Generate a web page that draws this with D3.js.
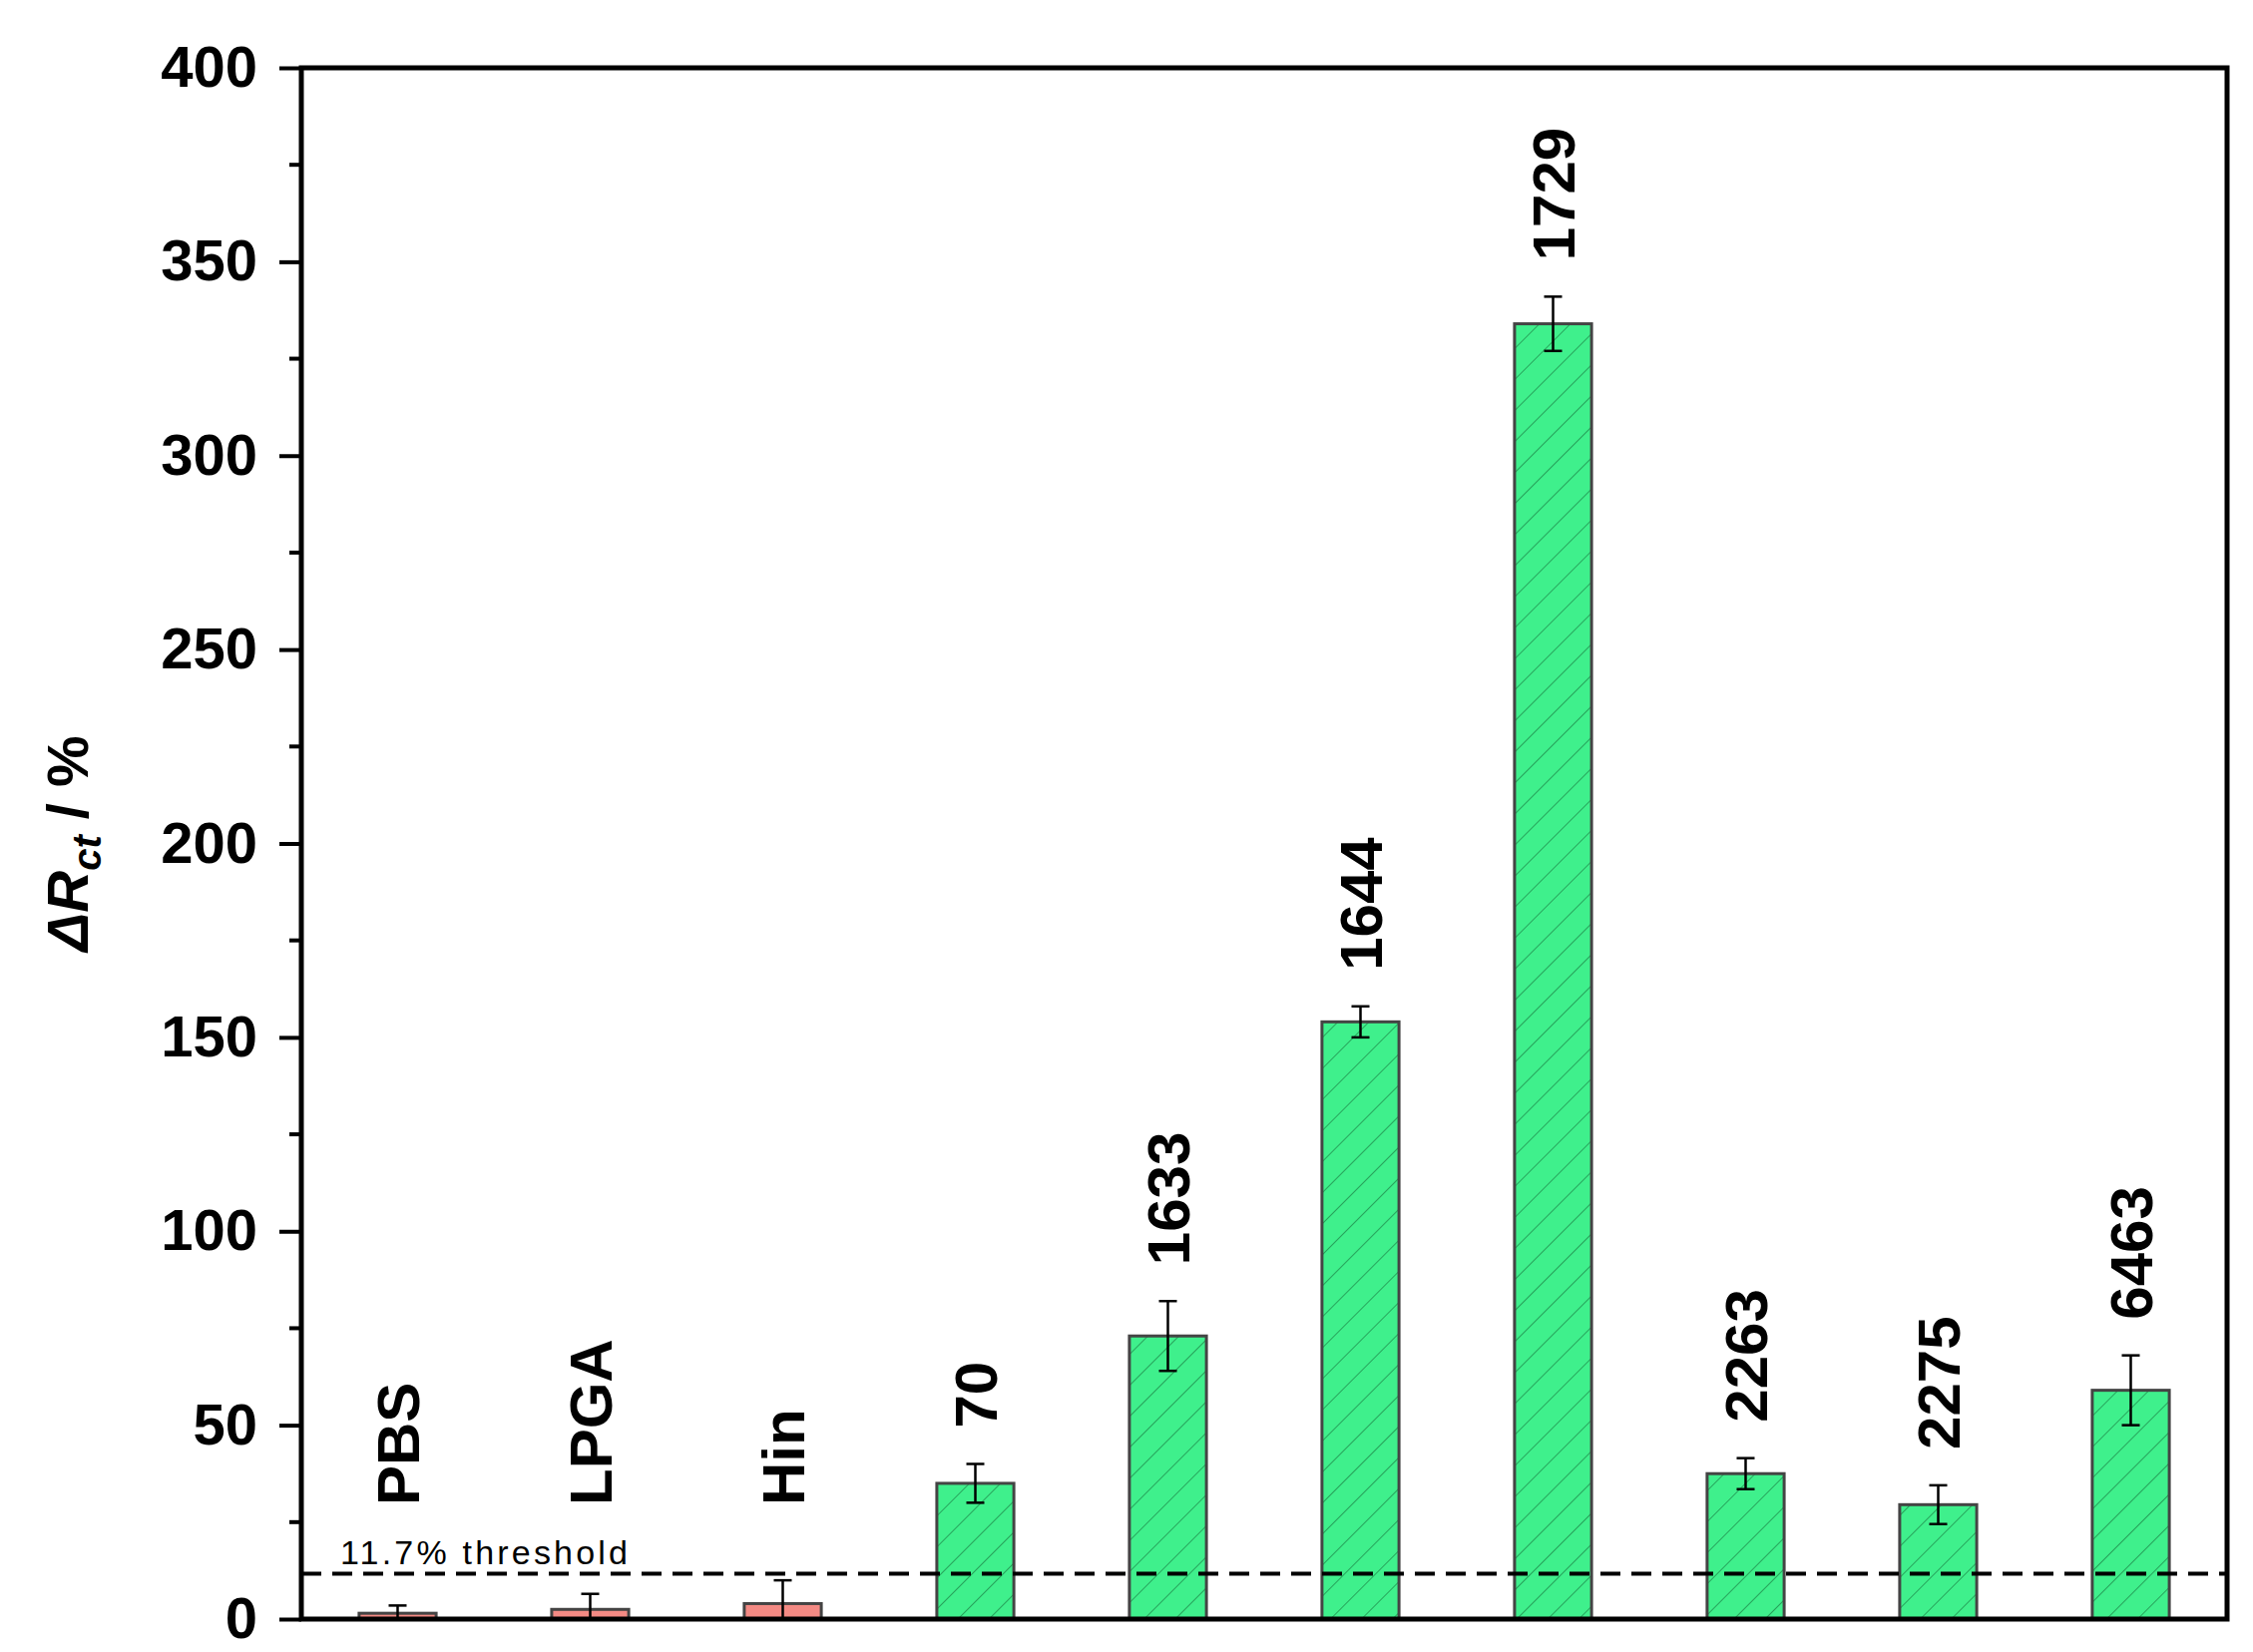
<!DOCTYPE html>
<html>
<head>
<meta charset="utf-8">
<script src="https://cdn.jsdelivr.net/npm/d3@7"></script>
<style>
body { margin: 0; background: #fff; }
text { font-family: Arial, "Liberation Sans", sans-serif; }
</style>
</head>
<body>
<script>
var categories = ["PBS", "LPGA", "Hin", "70", "1633", "1644", "1729", "2263", "2275", "6463"];
var values = [1.5, 2.5, 4, 35, 73, 154, 334, 37.5, 29.5, 59];
var errors = [2, 4, 6, 5, 9, 4, 7, 4, 5, 9];
var negatives = ["PBS", "LPGA", "Hin"];
var yTicks = [0, 50, 100, 150, 200, 250, 300, 350, 400];
var threshold = 11.7;

var width = 2258, height = 1656;
var margin = {left: 302, right: 26, top: 68, bottom: 33};

var svg = d3.select("body").append("svg")
    .attr("width", width)
    .attr("height", height);

var defs = svg.append("defs");
var pat = defs.append("pattern")
    .attr("id", "hatch")
    .attr("patternUnits", "userSpaceOnUse")
    .attr("width", 22).attr("height", 22)
    .attr("patternTransform", "rotate(45)");
pat.append("rect").attr("width", 22).attr("height", 22).attr("fill", "#3ff08c");
pat.append("line").attr("x1", 0).attr("y1", 0).attr("x2", 0).attr("y2", 22)
    .attr("stroke", "#1f8a4a").attr("stroke-width", 1.5);

var x = d3.scaleBand()
    .domain(categories)
    .range([margin.left, width - margin.right])
    .padding(0);

var y = d3.scaleLinear()
    .domain([0, 400])
    .range([height - margin.bottom, margin.top]);

var bw = x.bandwidth() * 0.4;

// bars
svg.selectAll("rect.bar")
    .data(categories)
  .enter().append("rect")
    .attr("class", "bar")
    .attr("x", function(d) { return x(d) + x.bandwidth() / 2 - bw / 2; })
    .attr("width", bw)
    .attr("y", function(d, i) { return y(values[i]); })
    .attr("height", function(d, i) { return y(0) - y(values[i]); })
    .attr("fill", function(d) { return negatives.indexOf(d) >= 0 ? "#f48a84" : "url(#hatch)"; })
    .attr("stroke", "#444")
    .attr("stroke-width", 3);

// error bars
function lo(i) { return values[i] - errors[i]; }
function hi(i) { return values[i] + errors[i]; }
var eb = svg.selectAll("g.err")
    .data(categories)
  .enter().append("g")
    .attr("class", "err")
    .attr("transform", function(d) { return "translate(" + (x(d) + x.bandwidth() / 2) + ",0)"; });
eb.append("line")
    .attr("y1", function(d, i) { return y(Math.max(0, lo(i))); })
    .attr("y2", function(d, i) { return y(hi(i)); })
    .attr("stroke", "#000").attr("stroke-width", 2.5);
eb.append("line")
    .attr("x1", -9).attr("x2", 9)
    .attr("y1", function(d, i) { return y(hi(i)); })
    .attr("y2", function(d, i) { return y(hi(i)); })
    .attr("stroke", "#000").attr("stroke-width", 2.5);
eb.append("line")
    .attr("x1", -9).attr("x2", 9)
    .attr("y1", function(d, i) { return y(Math.max(0, lo(i))); })
    .attr("y2", function(d, i) { return y(Math.max(0, lo(i))); })
    .attr("stroke", "#000").attr("stroke-width", 2.5);

// category labels (rotated)
svg.selectAll("text.cat")
    .data(categories)
  .enter().append("text")
    .attr("class", "cat")
    .attr("transform", function(d, i) {
        var base = Math.min(y(hi(i)) - 36, 1509);
        return "translate(" + (x(d) + x.bandwidth() / 2 + 21) + "," + base + ") rotate(-90)";
    })
    .attr("font-size", 60)
    .attr("font-weight", "bold")
    .text(function(d) { return d; });

// threshold
svg.append("line")
    .attr("x1", margin.left).attr("x2", width - margin.right)
    .attr("y1", y(threshold)).attr("y2", y(threshold))
    .attr("stroke", "#000").attr("stroke-width", 4)
    .attr("stroke-dasharray", "20,11");
svg.append("text")
    .attr("x", 341).attr("y", y(threshold) - 10)
    .attr("font-size", 34)
    .attr("textLength", 288)
    .text("11.7% threshold");

// axes
var yAxis = d3.axisLeft(y).tickValues(yTicks).tickSize(22).tickPadding(22);
var gy = svg.append("g")
    .attr("transform", "translate(" + margin.left + ",0)")
    .call(yAxis);
gy.select(".domain").remove();
gy.selectAll(".tick line").attr("stroke-width", 4);
gy.selectAll(".tick text").attr("font-size", 58).attr("font-weight", "bold")
    .attr("fill", "#000");

svg.selectAll("line.minor")
    .data(d3.range(25, 400, 50))
  .enter().append("line")
    .attr("class", "minor")
    .attr("x1", margin.left - 12).attr("x2", margin.left)
    .attr("y1", function(d) { return y(d); }).attr("y2", function(d) { return y(d); })
    .attr("stroke", "#000").attr("stroke-width", 4);

svg.append("rect")
    .attr("x", margin.left).attr("y", margin.top)
    .attr("width", width - margin.right - margin.left)
    .attr("height", height - margin.bottom - margin.top)
    .attr("fill", "none").attr("stroke", "#000").attr("stroke-width", 5);

// y title
var yt = svg.append("text")
    .attr("transform", "translate(88," + ((margin.top + height - margin.bottom) / 2) + ") rotate(-90)")
    .attr("text-anchor", "middle")
    .attr("font-size", 58)
    .attr("font-weight", "bold");
yt.append("tspan").attr("font-style", "italic").text("ΔR");
yt.append("tspan").attr("font-style", "italic").attr("font-size", 40).attr("dy", 13).text("ct");
yt.append("tspan").attr("dy", -13).text(" / %");
</script>
</body>
</html>
